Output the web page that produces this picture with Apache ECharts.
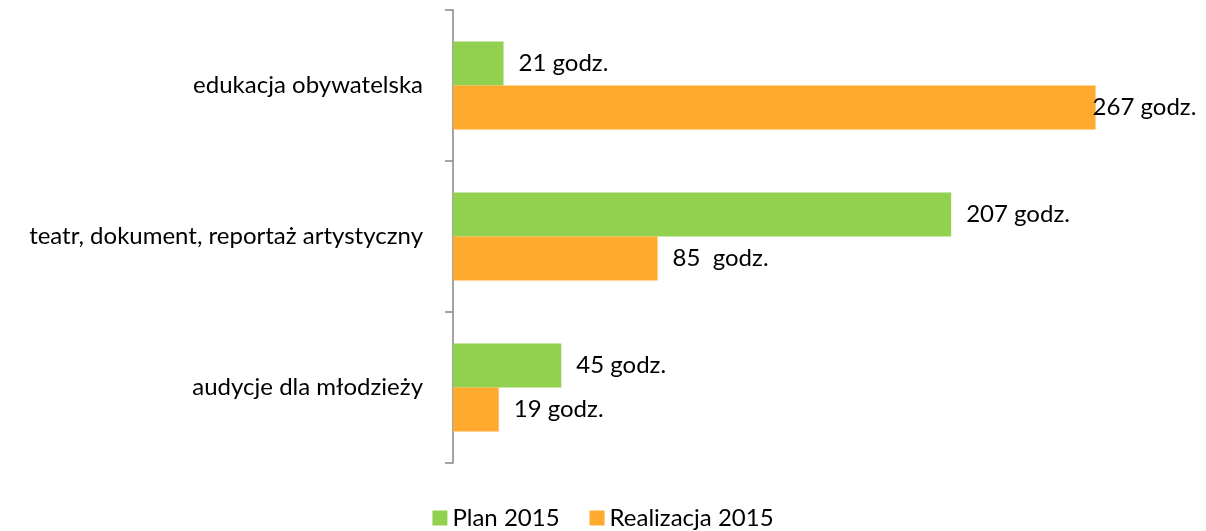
<!DOCTYPE html>
<html>
<head>
<meta charset="utf-8">
<script src="https://cdn.jsdelivr.net/npm/echarts@6/dist/echarts.min.js"></script>
<style>
  html, body { margin: 0; padding: 0; background: #fff; }
  #chart { width: 1206px; height: 531px; }
</style>
</head>
<body>
<div id="chart"></div>
<script>
const categories = ['edukacja obywatelska', 'teatr, dokument, reportaż artystyczny', 'audycje dla młodzieży']
const plan = [21, 207, 45]
const realizacja = [267, 85, 19]
const planLabels = ['21 godz.', '207 godz.', '45 godz.']
const realLabels = ['267 godz.', '85  godz.', '19 godz.']

const font = 'Lato, "Open Sans", sans-serif'
const fs = 24

const chart = echarts.init(document.getElementById('chart'))
chart.setOption({
  animation: false,
  textStyle: { fontFamily: font },
  grid: { left: 453, top: 10, width: 722, bottom: 68 },
  legend: {
    top: 501,
    left: 'center',
    itemWidth: 15,
    itemHeight: 15,
    itemGap: 30,
    icon: 'rect',
    textStyle: { fontSize: fs, color: '#000', fontFamily: font },
    data: ['Plan 2015', 'Realizacja 2015']
  },
  xAxis: {
    type: 'value',
    min: 0,
    max: 300,
    show: false
  },
  yAxis: {
    type: 'category',
    inverse: true,
    data: categories,
    axisLine: { show: true, lineStyle: { color: '#868686', width: 1.5 } },
    axisTick: { show: true, length: 8, lineStyle: { color: '#868686', width: 1.5 } },
    axisLabel: { fontSize: fs, color: '#000', margin: 30, fontFamily: font, padding: [4, 0, 0, 0] }
  },
  series: [
    {
      name: 'Plan 2015',
      type: 'bar',
      data: plan,
      barWidth: 44,
      barGap: '0%',
      itemStyle: { color: '#92D050' },
      label: {
        show: true,
        position: 'right',
        distance: 15,
        fontSize: fs,
        color: '#000',
        fontFamily: font,
        formatter: p => planLabels[p.dataIndex]
      }
    },
    {
      name: 'Realizacja 2015',
      type: 'bar',
      data: realizacja.map((v, i) => i === 0 ? { value: v, label: { distance: -3 } } : v),
      barWidth: 44,
      itemStyle: { color: '#FFA92F' },
      label: {
        show: true,
        position: 'right',
        distance: 15,
        fontSize: fs,
        color: '#000',
        fontFamily: font,
        formatter: p => realLabels[p.dataIndex]
      }
    }
  ]
})
</script>
</body>
</html>
